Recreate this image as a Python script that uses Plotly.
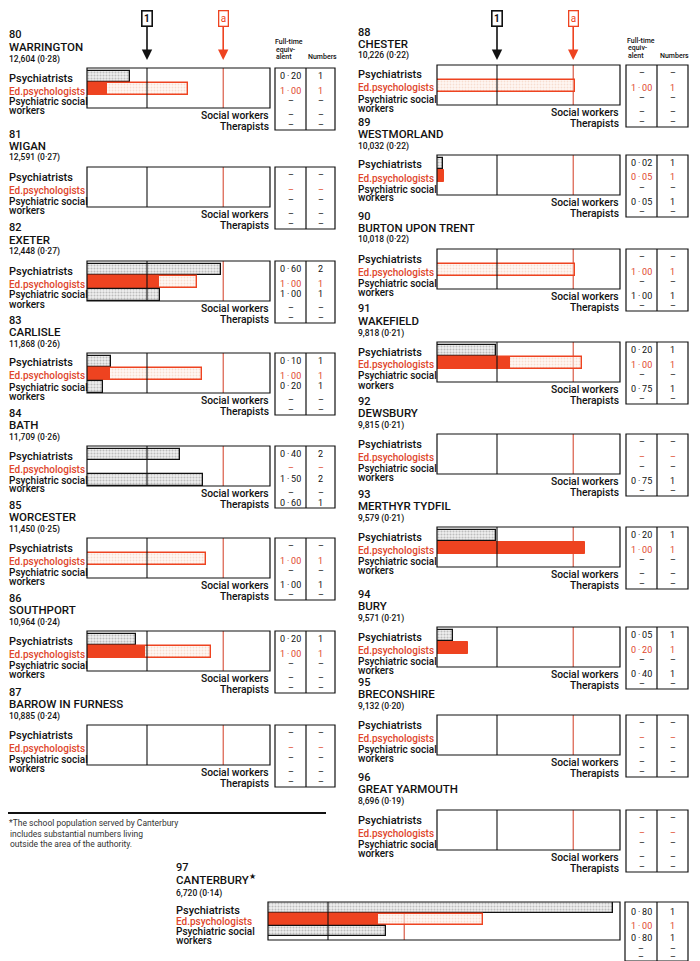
import plotly.graph_objects as go

# The page puts the plot 8px in from the top-left corner, so the figure is
# 692x953 and every reference-pixel position is shifted by that offset.
OFF = 8
W, H = 700 - OFF, 961 - OFF


def fx(p):
    return (p - OFF) / W


def fy(p):
    return 1 - (p - OFF) / H


# ---------------- data ----------------
authority_no = [80, 81, 82, 83, 84, 85, 86, 87, 88, 89, 90, 91, 92, 93, 94, 95, 96, 97]
authorities = ["WARRINGTON", "WIGAN", "EXETER", "CARLISLE", "BATH", "WORCESTER",
               "SOUTHPORT", "BARROW IN FURNESS", "CHESTER", "WESTMORLAND",
               "BURTON UPON TRENT", "WAKEFIELD", "DEWSBURY", "MERTHYR TYDFIL",
               "BURY", "BRECONSHIRE", "GREAT YARMOUTH", "CANTERBURY"]
school_pop = [12604, 12591, 12448, 11868, 11709, 11450, 10964, 10885, 10226,
              10032, 10018, 9818, 9815, 9579, 9571, 9132, 8696, 6720]
pop_pct = [0.28, 0.27, 0.27, 0.26, 0.26, 0.25, 0.24, 0.24, 0.22,
           0.22, 0.22, 0.21, 0.21, 0.21, 0.21, 0.20, 0.19, 0.14]

# bar lengths on the chart scale (marker "1" = 1)
bar_psychiatrists = [0.72, 0, 2.23, 0.40, 1.55, 0, 0.82, 0, 0,
                     0.10, 0, 0.98, 0, 0.98, 0.27, 0, 0, 5.75]
bar_edpsych_solid = [0.33, 0, 1.20, 0.38, 0, 0, 0.97, 0, 0,
                     0.12, 0, 1.22, 0, 2.47, 0.52, 0, 0, 1.83]
bar_edpsych_outline = [1.68, 0, 1.83, 1.92, 0, 1.98, 2.07, 0, 2.30,
                       0, 2.30, 2.42, 0, 0, 0, 0, 0, 3.59]
bar_psw = [0, 0, 1.22, 0.27, 1.93, 0, 0, 0, 0,
           0, 0, 0, 0, 0, 0, 0, 0, 1.97]

marker_1 = 1.0
marker_a = 2.27

# table: full-time equivalent (None = nil)
fte_psychiatrists = [0.20, None, 0.60, 0.10, 0.40, None, 0.20, None, None,
                     0.02, None, 0.20, None, 0.20, 0.05, None, None, 0.80]
fte_edpsych = [1.00, None, 1.00, 1.00, None, 1.00, 1.00, None, 1.00,
               0.05, 1.00, 1.00, None, 1.00, 0.20, None, None, 1.00]
fte_psw = [None, None, 1.00, 0.20, 1.50, None, None, None, None,
           None, None, None, None, None, None, None, None, 0.80]
fte_social = [None, None, None, None, None, 1.00, None, None, None,
              0.05, 1.00, 0.75, 0.75, None, 0.40, None, None, None]
fte_therapists = [None, None, None, None, 0.60, None, None, None, None,
                  None, None, None, None, None, None, None, None, None]
# table: numbers
num_psychiatrists = [1, None, 2, 1, 2, None, 1, None, None,
                     1, None, 1, None, 1, 1, None, None, 1]
num_edpsych = [1, None, 1, 1, None, 1, 1, None, 1,
               1, 1, 1, None, 1, 1, None, None, 1]
num_psw = [None, None, 1, 1, 2, None, None, None, None,
           None, None, None, None, None, None, None, None, 1]
num_social = [None, None, None, None, None, 1, None, None, None,
              1, 1, 1, 1, None, 1, None, None, None]
num_therapists = [None, None, None, None, 1, None, None, None, None,
                  None, None, None, None, None, None, None, None, None]

row_labels = ["Psychiatrists", "Ed.psychologists", "Psychiatric social", "workers"]

# ---------------- layout geometry ----------------
UNIT = 60.0
LEFT = dict(px0=87, px1=270, lab=8, t0=275, td=306, t1=335, h=40)
RIGHT = dict(px0=437, px1=620, lab=357, t0=626, td=657, t1=688, h=40)
CANT = dict(px0=268, px1=620, lab=175, t0=625, td=657, t1=688, h=38)
cols = [LEFT] * 8 + [RIGHT] * 9 + [CANT]
tops = [68, 167, 261, 353, 446, 538, 631, 725,
        65, 155, 249, 342, 434, 527, 627, 715, 810, 902]

BLACK = "#111111"
RED = "#ee4320"
RED_TXT = "#e0462c"
FONT = "Roboto, Liberation Sans, Arial, sans-serif"

fig = go.Figure()
annotations = []
shapes = []
layout_axes = {}


def txt(x, y, s, size=11, color=BLACK, xanchor="left", yanchor="middle", weight=500):
    annotations.append(dict(x=fx(x), y=fy(y), xref="paper", yref="paper", text=s,
                            showarrow=False, xanchor=xanchor, yanchor=yanchor,
                            font=dict(size=size, color=color, family=FONT, weight=weight),
                            borderpad=0))


def fmt(v):
    if v is None:
        return "–"
    return f"{v:.2f}".replace(".", "\u2009·\u2009")


def fmtn(v):
    return "–" if v is None else str(v)


grey_pattern = dict(shape=".", fgcolor="#8a8a8a", bgcolor="#f0f0f0", size=3, solidity=0.4)
red_pattern = dict(shape=".", fgcolor="#f1c4ae", bgcolor="rgba(253,240,232,0.55)", size=3, solidity=0.3)

for i in range(18):
    c = cols[i]
    top = tops[i]
    h = c["h"]
    k = i + 1
    xk = "xaxis" if k == 1 else f"xaxis{k}"
    yk = "yaxis" if k == 1 else f"yaxis{k}"
    xr = "x" if k == 1 else f"x{k}"
    yr = "y" if k == 1 else f"y{k}"
    yrange = [2.45, -0.65] if i < 17 else [2.77, -0.47]
    layout_axes[xk] = dict(domain=[fx(c["px0"]), fx(c["px1"])],
                           range=[0, (c["px1"] - c["px0"]) / UNIT], anchor=yr,
                           showgrid=False, zeroline=False, showticklabels=False,
                           showline=False, ticks="", fixedrange=True)
    layout_axes[yk] = dict(domain=[fy(top + h), fy(top)], range=yrange, anchor=xr,
                           showgrid=False, zeroline=False, showticklabels=False,
                           showline=False, ticks="", fixedrange=True)

    # bars
    if bar_psychiatrists[i] > 0:
        fig.add_trace(go.Bar(x=[bar_psychiatrists[i]], y=[0], orientation="h", width=0.9,
                             xaxis=xr, yaxis=yr, hoverinfo="skip",
                             marker=dict(color="#e6e6e6", pattern=grey_pattern,
                                         line=dict(color=BLACK, width=1.3))))
    if bar_edpsych_outline[i] > 0:
        fig.add_trace(go.Bar(x=[bar_edpsych_outline[i]], y=[1], orientation="h", width=0.9,
                             xaxis=xr, yaxis=yr, hoverinfo="skip",
                             marker=dict(color="rgba(253,240,232,0.55)", pattern=red_pattern,
                                         line=dict(color=RED, width=1.4))))
    if bar_edpsych_solid[i] > 0:
        fig.add_trace(go.Bar(x=[bar_edpsych_solid[i]], y=[1], orientation="h", width=0.9,
                             xaxis=xr, yaxis=yr, hoverinfo="skip",
                             marker=dict(color=RED, line=dict(color=RED, width=1))))
    if bar_psw[i] > 0:
        fig.add_trace(go.Bar(x=[bar_psw[i]], y=[2], orientation="h", width=0.9,
                             xaxis=xr, yaxis=yr, hoverinfo="skip",
                             marker=dict(color="#e6e6e6", pattern=grey_pattern,
                                         line=dict(color=BLACK, width=1.3))))

    # reference lines and frame
    shapes.append(dict(type="line", xref=xr, yref=f"{yr} domain", x0=marker_a, x1=marker_a,
                       y0=0, y1=1, line=dict(color="#d23a22", width=1), layer="below"))
    shapes.append(dict(type="line", xref=xr, yref=f"{yr} domain", x0=marker_1, x1=marker_1,
                       y0=0, y1=1, line=dict(color=BLACK, width=1.1), layer="above"))
    shapes.append(dict(type="rect", xref=f"{xr} domain", yref=f"{yr} domain", x0=0, x1=1,
                       y0=0, y1=1, line=dict(color=BLACK, width=1.2), layer="above"))

    # titles
    lx = c["lab"]
    if i < 17:
        off = (-33, -21, -9)
        loff = (10, 23, 34, 43)
    else:
        off = (-35, -23, -9)
        loff = (8, 19, 29, 38)
    txt(lx, top + off[0], str(authority_no[i]), size=11)
    name = authorities[i] + ("<sup>★</sup>" if i == 17 else "")
    txt(lx, top + off[1], name, size=11.5)
    pop_s = f"{school_pop[i]:,} ({pop_pct[i]:.2f})".replace(".", "·")
    txt(lx, top + off[2], pop_s, size=8.5)

    txt(lx, top + loff[0], row_labels[0], size=11)
    txt(lx, top + loff[1], row_labels[1], size=10, color=RED_TXT)
    txt(lx, top + loff[2], row_labels[2], size=10)
    txt(lx, top + loff[3], row_labels[3], size=10)

    if i < 17:
        txt(c["px1"], top + 47.5, "Social workers", size=10.3, xanchor="right")
        txt(c["px1"], top + 58.5, "Therapists", size=10.3, xanchor="right")

    # table
    tb = top + 62 if i < 17 else 961
    shapes.append(dict(type="rect", xref="paper", yref="paper", x0=fx(c["t0"]), x1=fx(c["t1"]),
                       y0=fy(tb), y1=fy(top), line=dict(color=BLACK, width=1.2)))
    shapes.append(dict(type="line", xref="paper", yref="paper", x0=fx(c["td"]), x1=fx(c["td"]),
                       y0=fy(tb), y1=fy(top), line=dict(color=BLACK, width=1.2)))
    roff = (8, 22.5, 33, 47, 57) if i < 17 else (10, 24, 36, 47, 55)
    ftes = [fte_psychiatrists[i], fte_edpsych[i], fte_psw[i], fte_social[i], fte_therapists[i]]
    nums = [num_psychiatrists[i], num_edpsych[i], num_psw[i], num_social[i], num_therapists[i]]
    cx1 = (c["t0"] + c["td"]) / 2
    cx2 = (c["td"] + c["t1"]) / 2
    for r in range(5):
        col = RED_TXT if r == 1 else BLACK
        txt(cx1, top + roff[r], fmt(ftes[r]), size=9, color=col, xanchor="center", weight=400)
        txt(cx2, top + roff[r], fmtn(nums[r]), size=9, color=col, xanchor="center", weight=400)

# headers over the two tables
for (tx0, td, ytop) in [(274, 306, 42), (626, 658, 41)]:
    txt(tx0, ytop, "Full-time", size=7)
    txt(tx0 + 1, ytop + 7.5, "equiv-", size=7)
    txt(tx0 + 1, ytop + 15, "alent", size=7)
    txt(td + 1, ytop + 15, "Numbers", size=7)

# marker arrows (left column on panel 80's axis, right column on panel 88's axis)
for xref in ["x", "x9"]:
    annotations.append(dict(x=marker_1, y=fy(60), xref=xref, yref="paper", text="<b>1</b>",
                            showarrow=True, ax=0, ay=-41, arrowhead=2, arrowsize=1.3,
                            arrowwidth=1.6, arrowcolor=BLACK, standoff=0,
                            bordercolor=BLACK, borderwidth=1.6, borderpad=1.5, bgcolor="white",
                            font=dict(size=10, color=BLACK, family=FONT)))
    annotations.append(dict(x=marker_a, y=fy(60), xref=xref, yref="paper", text="a",
                            showarrow=True, ax=0, ay=-41, arrowhead=2, arrowsize=1.3,
                            arrowwidth=1.6, arrowcolor=RED, standoff=0,
                            bordercolor=RED, borderwidth=1.3, borderpad=1.5, bgcolor="white",
                            font=dict(size=10, color=RED, family=FONT)))

# footnote
shapes.append(dict(type="line", xref="paper", yref="paper", x0=fx(8), x1=fx(326),
                   y0=fy(813), y1=fy(813), line=dict(color=BLACK, width=2)))
txt(8, 823, "*The school population served by Canterbury", size=8.5, color="#333", weight=400)
txt(9, 833.5, "includes substantial numbers living", size=8.5, color="#333", weight=400)
txt(9, 844, "outside the area of the authority.", size=8.5, color="#333", weight=400)

fig.update_layout(width=W, height=H, margin=dict(l=0, r=0, t=0, b=0), autosize=False,
                  paper_bgcolor="white", plot_bgcolor="rgba(0,0,0,0)", showlegend=False,
                  barmode="overlay", bargap=0, annotations=annotations, shapes=shapes,
                  font=dict(family=FONT, color=BLACK), **layout_axes)

fig.write_html("out.html")
